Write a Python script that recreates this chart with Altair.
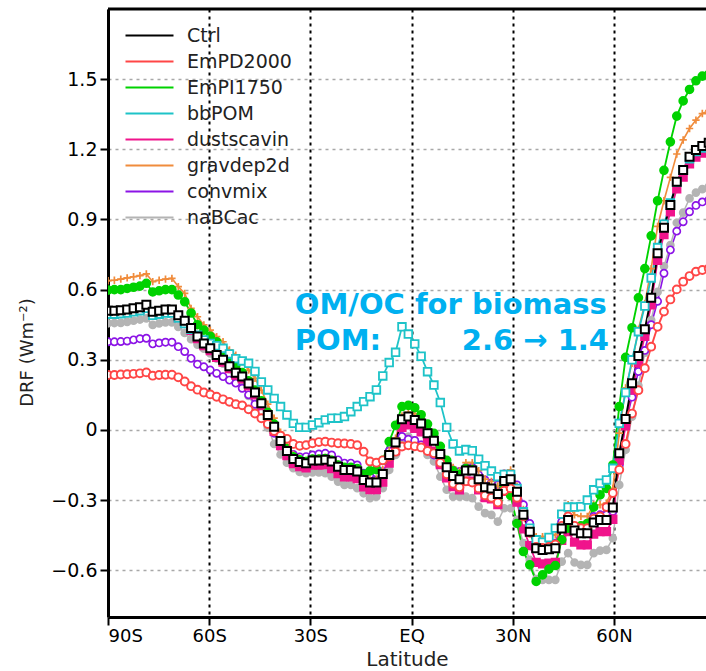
import altair as alt
import pandas as pd

lats = [-90.00, -88.11, -86.21, -84.32, -82.42, -80.53, -78.63, -76.74, -74.84, -72.95,
        -71.05, -69.16, -67.26, -65.37, -63.47, -61.58, -59.68, -57.79, -55.89, -54.00,
        -52.11, -50.21, -48.32, -46.42, -44.53, -42.63, -40.74, -38.84, -36.95, -35.05,
        -33.16, -31.26, -29.37, -27.47, -25.58, -23.68, -21.79, -19.89, -18.00, -16.11,
        -14.21, -12.32, -10.42, -8.53, -6.63, -4.74, -2.84, -0.95, 0.95, 2.84,
        4.74, 6.63, 8.53, 10.42, 12.32, 14.21, 16.11, 18.00, 19.89, 21.79,
        23.68, 25.58, 27.47, 29.37, 31.26, 33.16, 35.05, 36.95, 38.84, 40.74,
        42.63, 44.53, 46.42, 48.32, 50.21, 52.11, 54.00, 55.89, 57.79, 59.68,
        61.58, 63.47, 65.37, 67.26, 69.16, 71.05, 72.95, 74.84, 76.74, 78.63,
        80.53, 82.42, 84.32, 86.21, 88.11, 90.00]

ctrl = [0.51, 0.51, 0.512, 0.515, 0.52, 0.525, 0.535, 0.505, 0.51, 0.515,
        0.515, 0.49, 0.467, 0.436, 0.40, 0.37, 0.349, 0.32, 0.30, 0.272,
        0.244, 0.228, 0.198, 0.16, 0.114, 0.064, 0.014, -0.047, -0.09, -0.124,
        -0.137, -0.142, -0.131, -0.131, -0.128, -0.135, -0.157, -0.171, -0.171, -0.178,
        -0.214, -0.225, -0.225, -0.188, -0.107, -0.054, 0.046, 0.057, 0.042, 0.027,
        -0.014, -0.046, -0.103, -0.16, -0.197, -0.211, -0.174, -0.174, -0.211, -0.245,
        -0.25, -0.274, -0.218, -0.211, -0.264, -0.363, -0.435, -0.506, -0.513, -0.51,
        -0.506, -0.422, -0.385, -0.43, -0.442, -0.442, -0.396, -0.385, -0.385, -0.332,
        -0.10, 0.047, 0.20, 0.316, 0.43, 0.565, 0.755, 0.865, 0.962, 1.061,
        1.111, 1.168, 1.197, 1.214, 1.228, 1.24]

empd2000 = [0.235, 0.235, 0.237, 0.238, 0.24, 0.242, 0.246, 0.232, 0.235, 0.236, 0.236,
            0.225, 0.207, 0.187, 0.172, 0.16, 0.152, 0.142, 0.131, 0.12, 0.11,
            0.105, 0.088, 0.07, 0.05, 0.025, -0.005, -0.025, -0.038, -0.06, -0.068,
            -0.065, -0.057, -0.052, -0.05, -0.054, -0.057, -0.058, -0.06, -0.065, -0.093,
            -0.135, -0.14, -0.13, -0.114, -0.093, -0.071, -0.066, -0.07, -0.075, -0.09,
            -0.10, -0.14, -0.19, -0.23, -0.245, -0.22, -0.225, -0.25, -0.28, -0.29, -0.31, -0.26, -0.25, -0.29,
            -0.37, -0.44, -0.50, -0.505, -0.50, -0.49, -0.41, -0.37, -0.41, -0.42, -0.42, -0.38, -0.37, -0.33, -0.27,
            -0.17, -0.06, 0.07, 0.17, 0.264, 0.356, 0.441, 0.506, 0.558, 0.601, 0.634, 0.658, 0.677, 0.684, 0.69, 0.695]

empi1750 = [0.598, 0.60, 0.60, 0.605, 0.61, 0.615, 0.627, 0.59, 0.595, 0.60, 0.60,
            0.577, 0.548, 0.50, 0.45, 0.427, 0.40, 0.377, 0.34, 0.31, 0.275,
            0.245, 0.21, 0.17, 0.125, 0.075, 0.025, -0.035, -0.08, -0.115, -0.128,
            -0.135, -0.125, -0.125, -0.122, -0.13, -0.15, -0.16, -0.16, -0.165, -0.19,
            -0.175, -0.17, -0.13, -0.05, 0.02, 0.10, 0.105, 0.095, 0.065, 0.025,
            -0.015, -0.07, -0.13, -0.175, -0.19, -0.165, -0.17, -0.215, -0.256, -0.265,
            -0.30, -0.245, -0.28, -0.40, -0.52, -0.577, -0.648, -0.62, -0.595, -0.58,
            -0.47, -0.42, -0.42, -0.41, -0.40, -0.33, -0.278, -0.25, -0.15, 0.10,
            0.31, 0.437, 0.565, 0.69, 0.83, 0.98, 1.11, 1.232, 1.342, 1.407,
            1.456, 1.493, 1.513, 1.52, 1.525]

bbpom = [0.495, 0.495, 0.497, 0.50, 0.505, 0.51, 0.52, 0.49, 0.495, 0.50, 0.50,
         0.478, 0.455, 0.43, 0.405, 0.385, 0.37, 0.36, 0.349, 0.325, 0.305,
         0.295, 0.285, 0.25, 0.205, 0.171, 0.135, 0.10, 0.064, 0.028, 0.011,
         0.011, 0.021, 0.031, 0.043, 0.05, 0.05, 0.057, 0.078, 0.10, 0.121,
         0.142, 0.171, 0.231, 0.288, 0.332, 0.441, 0.41, 0.368, 0.315, 0.249,
         0.192, 0.117, 0.011, -0.06, -0.09, -0.084, -0.089, -0.125, -0.153, -0.176,
         -0.20, -0.19, -0.19, -0.25, -0.35, -0.42, -0.47, -0.48, -0.46, -0.42,
         -0.36, -0.33, -0.33, -0.328, -0.30, -0.256, -0.228, -0.214, -0.164, 0.028,
         0.16, 0.30, 0.42, 0.53, 0.65, 0.78, 0.88, 0.97, 1.06, 1.11,
         1.16, 1.19, 1.205, 1.215, 1.22]

dustscavin = [0.50, 0.50, 0.502, 0.505, 0.51, 0.515, 0.525, 0.495, 0.50, 0.505, 0.505,
              0.48, 0.457, 0.426, 0.39, 0.36, 0.339, 0.31, 0.29, 0.262, 0.234, 0.218, 0.188, 0.15, 0.104,
              0.044, -0.006, -0.067, -0.11, -0.144, -0.157, -0.162, -0.151, -0.151, -0.148,
              -0.165, -0.187, -0.201, -0.201, -0.208, -0.244, -0.255, -0.255,
              -0.223, -0.142, -0.089, 0.011, 0.022, 0.007, -0.008, -0.049,
              -0.091, -0.148, -0.205, -0.242, -0.256, -0.219, -0.219, -0.256, -0.29, -0.295, -0.319, -0.263, -0.256, -0.309,
              -0.423, -0.495, -0.566, -0.573, -0.57, -0.566,
              -0.472, -0.435, -0.48, -0.492, -0.492, -0.446, -0.435, -0.435, -0.382,
              -0.13, 0.017, 0.17, 0.286, 0.40, 0.535, 0.725, 0.835, 0.932, 1.031, 1.081, 1.138, 1.167, 1.184, 1.198, 1.21]

gravdep2d = [0.638, 0.64, 0.645, 0.65, 0.655, 0.66, 0.667, 0.634, 0.64, 0.645, 0.648,
             0.613, 0.584, 0.52, 0.484, 0.449, 0.427, 0.399, 0.377, 0.342, 0.32,
             0.292, 0.256, 0.221, 0.17, 0.11, 0.05, -0.01, -0.065, -0.105, -0.12,
             -0.13, -0.12, -0.12, -0.118, -0.125, -0.145, -0.16, -0.16, -0.165, -0.20,
             -0.21, -0.21, -0.17, -0.09, -0.035, 0.06, 0.075, 0.07, 0.068, 0.02,
             -0.03, -0.07, -0.128, -0.16, -0.175, -0.14, -0.14, -0.174, -0.21, -0.22,
             -0.24, -0.185, -0.171, -0.24, -0.34, -0.42, -0.456, -0.456, -0.456, -0.449,
             -0.363, -0.32, -0.363, -0.37, -0.37, -0.32, -0.32, -0.313, -0.25, -0.014,
             0.18, 0.285, 0.43, 0.54, 0.69, 0.87, 0.98, 1.08, 1.18, 1.24,
             1.289, 1.325, 1.353, 1.365, 1.375]

convmix = [0.377, 0.377, 0.378, 0.38, 0.385, 0.39, 0.392, 0.368, 0.372, 0.375, 0.375,
           0.356, 0.335, 0.306, 0.281, 0.27, 0.256, 0.242, 0.228, 0.213, 0.20,
           0.178, 0.15, 0.11, 0.075, 0.03, -0.014, -0.057, -0.085, -0.105, -0.115,
           -0.114, -0.107, -0.103, -0.10, -0.107, -0.128, -0.142, -0.142, -0.15, -0.185,
           -0.192, -0.185, -0.15, -0.09, -0.05, -0.028, -0.04, -0.045, -0.064, -0.085,
           -0.107, -0.135, -0.157, -0.171, -0.178, -0.16, -0.16, -0.192, -0.214, -0.228,
           -0.235, -0.188, -0.185, -0.235, -0.32, -0.40, -0.481, -0.491, -0.491, -0.484,
           -0.392, -0.377, -0.413, -0.42, -0.413, -0.37, -0.363, -0.363, -0.349, -0.15,
           0.028, 0.14, 0.25, 0.34, 0.45, 0.55, 0.67, 0.77, 0.85, 0.89,
           0.933, 0.96, 0.975, 0.983, 0.99]

nabcac = [0.456, 0.457, 0.458, 0.462, 0.467, 0.472, 0.477, 0.449, 0.455, 0.46, 0.46,
          0.44, 0.415, 0.388, 0.365, 0.347, 0.327, 0.305, 0.283, 0.26, 0.228,
          0.19, 0.145, 0.10, 0.055, 0.01, -0.06, -0.105, -0.14, -0.164, -0.18,
          -0.185, -0.182, -0.182, -0.185, -0.20, -0.221, -0.235, -0.235, -0.249, -0.271,
          -0.292, -0.285, -0.249, -0.171, -0.107, -0.043, -0.028, -0.045, -0.064, -0.107,
          -0.135, -0.20, -0.256, -0.285, -0.285, -0.285, -0.292, -0.328, -0.356, -0.363,
          -0.392, -0.335, -0.335, -0.385, -0.484, -0.556, -0.638, -0.641, -0.641, -0.641,
          -0.563, -0.527, -0.567, -0.577, -0.577, -0.527, -0.516, -0.513, -0.463, -0.235,
          -0.085, 0.057, 0.19, 0.33, 0.47, 0.59, 0.70, 0.79, 0.886, 0.929,
          0.99, 1.015, 1.03, 1.04, 1.045]

series_names = ["Ctrl", "EmPD2000", "EmPI1750", "bbPOM", "dustscavin", "gravdep2d", "convmix", "naBCac"]
series_values = [ctrl, empd2000, empi1750, bbpom, dustscavin, gravdep2d, convmix, nabcac]
colors = ["#000000", "#ff4646", "#00d200", "#1ec3c8", "#f0148c", "#f08c3c", "#8c14e6", "#b4b4b4"]
shapes = ["square", "circle", "circle", "square", "square", "M-1,0H1M0,-1V1", "circle", "circle"]
fills = ["#ffffff", "#ffffff", "#00d200", "#ffffff", "#f0148c", "#f08c3c", "#ffffff", "#b4b4b4"]
marker_sizes = [64, 50, 50, 58, 66, 110, 50, 56]
marker_strokes = [2, 1.6, 1, 1.6, 1, 1.8, 1.6, 1]
line_widths = [2, 1.5, 1.5, 1.5, 1.5, 1.5, 1.5, 1.5]
draw_order = ["naBCac", "convmix", "gravdep2d", "dustscavin", "EmPI1750", "bbPOM", "EmPD2000", "Ctrl"]
marker_keys = ["m_" + n for n in series_names]

x_ticks = [-90, -60, -30, 0, 30, 60]
y_ticks = [-0.6, -0.3, 0, 0.3, 0.6, 0.9, 1.2, 1.5]
frame_top = [1.8]

ann_lat = [-34.6, -34.6, 14.9]
ann_val = [0.496, 0.342, 0.342]
ann_text = ["OM/OC for biomass", "POM:", "2.6 \u2192 1.4"]

rows = []
for name in draw_order:
    vals = series_values[series_names.index(name)]
    for la, v in zip(lats, vals):
        rows.append({"lat": la, "drf": v, "series": name, "marker": "m_" + name,
                     "z": draw_order.index(name)})
df = pd.DataFrame(rows)

FONT = "DejaVu Sans"
xscale = alt.Scale(domain=[-90, 87.3], nice=False, zero=False)
yscale = alt.Scale(domain=[-0.8, 1.8], nice=False, zero=False)

xenc = alt.X("lat:Q", scale=xscale, axis=alt.Axis(
    values=x_ticks,
    labelExpr="datum.value == 0 ? 'EQ' : (datum.value < 0 ? (-datum.value) + 'S' : datum.value + 'N')",
    title="Latitude", titleFont=FONT, titleFontSize=20, titleFontWeight="normal", titleColor="#222222",
    titleY=48, titleBaseline="alphabetic",
    labelFont=FONT, labelFontSize=18, labelColor="#000000", labelPadding=2,
    tickSize=8, tickWidth=2, tickColor="#000000",
    domainWidth=3, domainColor="#000000",
    grid=True, gridColor="#000000", gridWidth=2, gridDash=[3, 4],
))
yenc = alt.Y("drf:Q", scale=yscale, axis=alt.Axis(
    values=y_ticks, format=".1~f",
    title="DRF (Wm\u207b\u00b2)", titleFont=FONT, titleFontSize=18, titleFontWeight="normal", titleColor="#222222",
    titleX=-81, titleY=343, titleAlign="center", titleBaseline="middle", titleAngle=270,
    labelFont=FONT, labelFontSize=19, labelColor="#000000", labelPadding=3,
    tickSize=8, tickWidth=2, tickColor="#000000",
    domainWidth=3, domainColor="#000000",
    grid=True, gridColor="#a8a8a8", gridWidth=1.5, gridDash=[3, 4],
))

lines = alt.Chart(df).mark_line(clip=True).encode(
    x=xenc, y=yenc,
    color=alt.Color("series:N", scale=alt.Scale(domain=series_names, range=colors),
                    legend=alt.Legend(title=None, orient="none", legendX=32, legendY=17, direction="vertical",
                                      symbolType="M-4,0H4", symbolSize=144, symbolStrokeWidth=2,
                                      symbolFillColor="transparent",
                                      labelFont=FONT, labelFontSize=19, labelColor="#222222",
                                      rowPadding=6, labelOffset=28, padding=0, symbolOpacity=1)),
    strokeWidth=alt.StrokeWidth("series:N", scale=alt.Scale(domain=series_names, range=line_widths), legend=None),
    detail="series:N",
)

points = alt.Chart(df).mark_point(clip=True, opacity=1, filled=True).encode(
    x=alt.X("lat:Q"),
    y=alt.Y("drf:Q"),
    shape=alt.Shape("marker:N", scale=alt.Scale(domain=marker_keys, range=shapes), legend=None),
    stroke=alt.Stroke("marker:N", scale=alt.Scale(domain=marker_keys, range=colors), legend=None),
    fill=alt.Fill("marker:N", scale=alt.Scale(domain=marker_keys, range=fills), legend=None),
    size=alt.Size("marker:N", scale=alt.Scale(domain=marker_keys, range=marker_sizes), legend=None),
    strokeWidth=alt.StrokeWidth("marker:N", scale=alt.Scale(domain=marker_keys, range=marker_strokes), legend=None),
    order=alt.Order("z:Q"),
)

top_frame = alt.Chart(pd.DataFrame({"drf": frame_top})).mark_rule(color="#000000", strokeWidth=3).encode(
    y=alt.Y("drf:Q")
)

ann_df = pd.DataFrame({"lat": ann_lat, "drf": ann_val, "text": ann_text})
notes = alt.Chart(ann_df).mark_text(align="left", baseline="alphabetic", font=FONT, fontWeight="bold",
                                    fontSize=29, color="#00b0f0").encode(
    x=alt.X("lat:Q"), y=alt.Y("drf:Q"), text="text:N"
)

chart = alt.layer(lines, points, notes, top_frame).resolve_scale(
    strokeWidth="independent"
).properties(
    width=598, height=608,
    autosize=alt.AutoSizeParams(type="none"),
    padding={"left": 108, "top": 9, "right": 0, "bottom": 54},
    background="white",
).configure_view(stroke=None)

chart.save("out.html", embed_options={"renderer": "svg", "actions": False})
